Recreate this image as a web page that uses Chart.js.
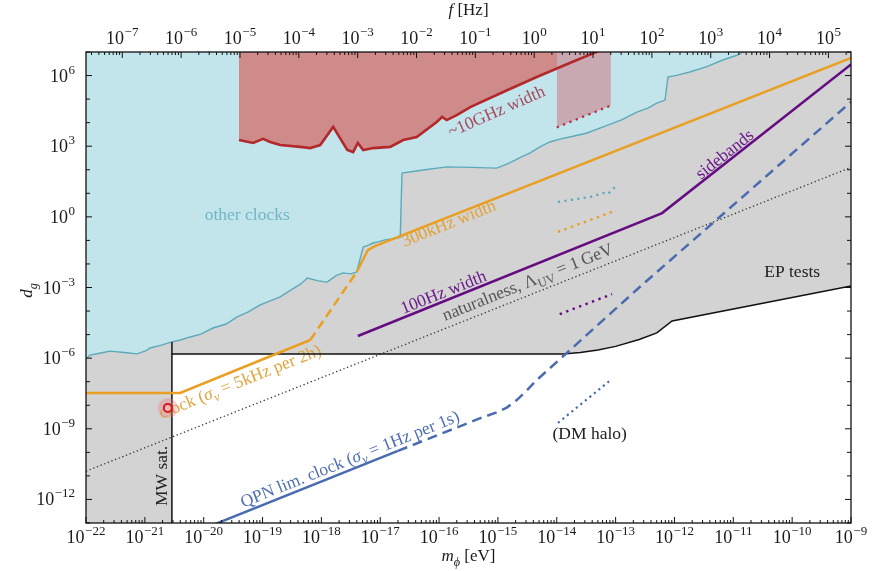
<!DOCTYPE html>
<html>
<head>
<meta charset="utf-8">
<title>d_g constraints</title>
<script src="https://cdn.jsdelivr.net/npm/chart.js@4.4.1/dist/chart.umd.min.js"></script>
<style>
  html, body { margin: 0; padding: 0; background: #ffffff; }
  canvas { display: block; }
</style>
</head>
<body>
<canvas id="c" width="877" height="571"></canvas>
<script>
// ---- axis ranges ----
const massRange = [1e-22, 1e-9];        // m_phi [eV]
const couplingRange = [1e-13, 1e7];     // d_g
const HZ_PER_EV = 2.418e14;             // f = m c^2 / h

// ---- tick labels (decade exponents) ----
const massTickExps = [-22, -21, -20, -19, -18, -17, -16, -15, -14, -13, -12, -11, -10, -9];
const freqTickExps = [-7, -6, -5, -4, -3, -2, -1, 0, 1, 2, 3, 4, 5];
const couplingTickExps = [6, 3, 0, -3, -6, -9, -12];

// ---- curves, as [log10 m_phi, log10 d_g] pairs ----
const otherClocks = [
  [-22.0,-6.04],[-21.93,-5.87],[-21.75,-5.78],[-21.59,-5.70],[-21.35,-5.76],[-21.13,-5.82],
  [-20.98,-5.68],[-20.91,-5.57],[-20.72,-5.45],[-20.54,-5.31],[-20.38,-5.22],[-20.23,-5.10],
  [-20.05,-4.98],[-19.84,-4.72],[-19.62,-4.55],[-19.43,-4.25],[-19.25,-4.05],[-19.04,-3.74],
  [-18.88,-3.58],[-18.70,-3.40],[-18.48,-3.05],[-18.35,-2.85],[-18.24,-2.60],[-18.05,-2.72],
  [-17.90,-2.77],[-17.75,-2.50],[-17.63,-2.38],[-17.50,-2.42],[-17.40,-2.34],[-17.29,-1.28],
  [-17.20,-1.20],[-17.12,-1.11],[-17.02,-1.05],[-16.92,-0.98],[-16.80,-0.94],[-16.66,-0.86],
  [-16.63,1.86],[-16.30,1.98],[-15.87,2.12],[-15.45,2.10],[-15.02,2.07],[-14.80,2.29],
  [-14.60,2.55],[-14.46,2.71],[-14.30,2.95],[-14.12,3.18],[-13.95,3.30],[-13.78,3.39],
  [-13.50,3.55],[-13.21,3.82],[-12.90,4.12],[-12.64,4.45],[-12.45,4.62],[-12.30,4.83],
  [-12.16,4.96],[-12.11,5.94],[-11.95,6.02],[-11.74,6.15],[-11.45,6.38],[-11.18,6.66],
  [-10.95,6.85],[-10.80,7.05]
];
const tenGHzWidth = [
  [-19.40,7.05],[-19.40,3.26],[-19.16,3.14],[-18.99,3.31],[-18.87,3.18],[-18.70,3.05],
  [-18.36,2.97],[-18.19,2.92],[-18.02,3.05],[-17.80,3.82],[-17.56,2.84],[-17.46,2.75],
  [-17.38,3.14],[-17.29,2.84],[-17.12,2.92],[-16.83,2.97],[-16.61,3.26],[-16.38,3.39],
  [-16.04,4.03],[-15.95,4.24],[-15.87,4.11],[-15.70,4.32],[-15.47,4.66],[-14.91,5.30],
  [-14.34,5.94],[-13.78,6.53],[-13.28,7.05]
];
const epTests = [
  [-20.54,-5.82],[-13.90,-5.82],[-13.60,-5.76],[-13.30,-5.65],[-13.00,-5.50],
  [-12.60,-5.21],[-12.30,-4.93],[-12.04,-4.42],[-9.00,-2.94]
];
const mwSat = [[-20.54,-13.2],[-20.54,-5.31]];
const naturalness = [[-22.0,-10.8],[-9.0,2.1]];

const clock5kHz = [[-22.0,-7.48],[-20.40,-7.48],[-18.19,-5.23]];
const clock5kHzDashed = [[-18.19,-5.23],[-17.40,-2.34]];
const width300kHz = [[-17.40,-2.34],[-17.21,-1.41],[-17.09,-1.24],[-9.0,6.75]];

const width100Hz = [[-17.38,-5.06],[-12.21,0.16],[-9.0,6.47]];

const qpnSolid = [[-20.0,-13.24],[-16.7,-9.94]];
const qpnDashed = [
  [-16.7,-9.94],[-15.30,-8.55],[-15.02,-8.30],[-14.85,-8.10],[-14.68,-7.78],
  [-14.50,-7.35],[-14.34,-6.93],[-12.59,-2.98],[-9.0,4.88]
];

const bandRedDotted = [[-14.0,3.80],[-13.08,4.73]];
const bandTealDotted = [[-13.98,0.63],[-13.66,0.76],[-13.44,0.84],[-13.21,1.01],[-13.13,0.97],[-13.01,1.27]];
const bandOrangeDotted = [[-13.98,-0.64],[-13.06,0.21]];
const bandPurpleDotted = [[-13.95,-4.13],[-13.06,-3.28]];
const dmHalo = [[-13.98,-8.75],[-13.08,-6.92]];

const clockPoint = [[-20.61,-8.12]];

// ---- colours ----
const C = {
  gray: '#d3d3d3', blue: '#c2e5ec', teal: '#5ca9ba', redFill: '#cf8a8a', redLine: '#b3292b',
  band: '#c9a9b1', orange: '#e89f22', purple: '#650c80', qpn: '#4a6bb0', black: '#111111'
};
const SERIF = '"Liberation Serif", "DejaVu Serif", serif';

const P = arr => arr.map(([a, b]) => ({ x: Math.pow(10, a), y: Math.pow(10, b) }));
const line = (label, pts, style) => Object.assign(
  { label, data: P(pts), pointRadius: 0, borderWidth: 2.5, fill: false, clip: 0, tension: 0 }, style);

const datasets = [
  line('EP tests', epTests, { borderColor: C.black, borderWidth: 1.5, fill: 'start', backgroundColor: '#ffffff', order: 20 }),
  line('other clocks', otherClocks, { borderColor: C.teal, borderWidth: 1.4, fill: 'end', backgroundColor: C.blue, order: 19 }),
  line('~10GHz width', tenGHzWidth, { borderColor: C.redLine, borderWidth: 2.6, fill: 'end', backgroundColor: C.redFill, order: 18,
    segment: { borderColor: ctx => ctx.p0DataIndex === 0 ? 'rgba(0,0,0,0)' : undefined } }),
  line('band', bandRedDotted, { borderColor: '#b2304c', borderWidth: 2.3, borderDash: [2.3, 4.5], fill: 'end', backgroundColor: C.band, order: 17 }),
  line('MW sat.', mwSat, { borderColor: C.black, borderWidth: 1.5, order: 6 }),
  line('naturalness', naturalness, { borderColor: '#333333', borderWidth: 1.3, borderDash: [1.3, 2.6], order: 6 }),
  line('clock 5kHz', clock5kHz, { borderColor: C.orange, order: 5 }),
  line('clock 5kHz dashed', clock5kHzDashed, { borderColor: C.orange, borderDash: [9, 5], order: 5 }),
  line('300kHz width', width300kHz, { borderColor: C.orange, order: 5 }),
  line('100Hz width', width100Hz, { borderColor: C.purple, order: 5 }),
  line('QPN', qpnSolid, { borderColor: C.qpn, order: 5 }),
  line('QPN dashed', qpnDashed, { borderColor: C.qpn, borderDash: [10, 6], order: 5 }),
  line('teal dotted', bandTealDotted, { borderColor: C.teal, borderWidth: 2.2, borderDash: [2.2, 4.3], order: 4 }),
  line('orange dotted', bandOrangeDotted, { borderColor: C.orange, borderWidth: 2.4, borderDash: [2.4, 4.5], order: 4 }),
  line('purple dotted', bandPurpleDotted, { borderColor: C.purple, borderWidth: 2.4, borderDash: [2.4, 4.5], order: 4 }),
  line('DM halo', dmHalo, { borderColor: C.qpn, borderWidth: 2.2, borderDash: [2.2, 3.6], order: 4 }),
  line('clock glow', clockPoint, { showLine: false, pointRadius: 10, pointBorderWidth: 0, pointBackgroundColor: 'rgba(236,120,120,0.35)', order: 2 }),
  line('clock point', clockPoint, { showLine: false, pointRadius: 4, pointBorderWidth: 2, pointBorderColor: '#d21a1a', pointBackgroundColor: '#f2b8b8', order: 1 })
];

// ---- annotations along the curves ----
const notes = [
  { segs: [{ t: 'other clocks' }], at: [-19.26, 0.08], slope: 0, color: '#72b5c5' },
  { segs: [{ t: '~10GHz width' }], at: [-15.02, 4.45], slope: 1.1, color: '#a8485c' },
  { segs: [{ t: '300kHz width' }], at: [-15.83, -0.30], slope: 1, color: '#e2a235' },
  { segs: [{ t: '100Hz width' }], at: [-15.92, -3.23], slope: 1, color: '#6c1a8c' },
  { segs: [{ t: 'naturalness, \u039B' }, { t: 'UV', sub: true }, { t: ' = 1\u2009GeV' }], at: [-14.49, -2.80], slope: 1, color: '#555555' },
  { segs: [{ t: 'sidebands' }], at: [-11.14, 2.63], slope: 2, color: '#6c1a8c' },
  { segs: [{ t: 'EP tests' }], at: [-10.0, -2.38], slope: 0, color: '#222222' },
  { segs: [{ t: 'clock (' }, { t: '\u03C3', it: true }, { t: '\u03BD', it: true, sub: true }, { t: ' = 5kHz per 2h)' }], at: [-19.38, -7.03], slope: 1, color: '#dfa43e' },
  { segs: [{ t: 'QPN lim. clock (' }, { t: '\u03C3', it: true }, { t: '\u03BD', it: true, sub: true }, { t: ' = 1Hz per 1s)' }], at: [-17.51, -10.32], slope: 1, color: '#4f6fb2' },
  { segs: [{ t: '(DM halo)' }], at: [-13.44, -9.22], slope: 0, color: '#222222' },
  { segs: [{ t: 'MW sat.' }], at: [-20.71, -11.0], angle: -Math.PI / 2, color: '#222222' }
];

function segFont(seg, size) {
  const s = (seg.sub || seg.sup) ? size * 0.72 : size;
  return (seg.it ? 'italic ' : '') + s.toFixed(1) + 'px ' + SERIF;
}
function drawRich(ctx, segs, x, y, angle, color, size) {
  ctx.save();
  ctx.translate(x, y);
  ctx.rotate(angle);
  let w = 0;
  for (const s of segs) { ctx.font = segFont(s, size); w += ctx.measureText(s.t).width; }
  let cx = -w / 2;
  ctx.fillStyle = color;
  ctx.textBaseline = 'middle';
  ctx.textAlign = 'left';
  for (const s of segs) {
    ctx.font = segFont(s, size);
    const dy = s.sub ? size * 0.32 : (s.sup ? -size * 0.4 : 0);
    ctx.fillText(s.t, cx, dy);
    cx += ctx.measureText(s.t).width;
  }
  ctx.restore();
}
function drawPow(ctx, exp, x, y, align) {
  const base = '10';
  const e = (exp < 0 ? '\u2212' : '') + Math.abs(exp);
  ctx.font = '18px ' + SERIF;
  const wb = ctx.measureText(base).width;
  ctx.font = '13px ' + SERIF;
  const we = ctx.measureText(e).width;
  const total = wb + we + 0.5;
  const x0 = align === 'center' ? x - total / 2 : (align === 'right' ? x - total : x);
  ctx.textBaseline = 'alphabetic';
  ctx.textAlign = 'left';
  ctx.font = '18px ' + SERIF;
  ctx.fillText(base, x0, y);
  ctx.font = '13px ' + SERIF;
  ctx.fillText(e, x0 + wb + 0.5, y - 8);
}

const framePlugin = {
  id: 'frame',
  beforeDraw(chart) {
    const { ctx, chartArea: a } = chart;
    ctx.save();
    ctx.fillStyle = C.gray;
    ctx.fillRect(a.left, a.top, a.right - a.left, a.bottom - a.top);
    ctx.restore();
  },
  beforeDatasetsDraw(chart) {
    const { ctx, chartArea: a } = chart;
    const sx = chart.scales.x, sy = chart.scales.y;
    ctx.save();
    ctx.beginPath();
    ctx.rect(a.left, a.top, a.right - a.left, a.bottom - a.top);
    ctx.clip();
    for (const n of notes) {
      const px = sx.getPixelForValue(Math.pow(10, n.at[0]));
      const py = sy.getPixelForValue(Math.pow(10, n.at[1]));
      let ang = n.angle || 0;
      if (n.slope !== undefined && n.angle === undefined) {
        const px2 = sx.getPixelForValue(Math.pow(10, n.at[0] + 1));
        const py2 = sy.getPixelForValue(Math.pow(10, n.at[1] + n.slope));
        ang = Math.atan2(py2 - py, px2 - px);
      }
      drawRich(ctx, n.segs, px, py, ang, n.color, 17.5);
    }
    ctx.restore();
  },
  afterDraw(chart) {
    const { ctx, chartArea: a } = chart;
    const sx = chart.scales.x, sf = chart.scales.xTop, sy = chart.scales.y;
    ctx.save();
    ctx.strokeStyle = '#111';
    ctx.fillStyle = '#111';
    ctx.lineWidth = 1;
    // inward ticks, bottom (mass) and top (frequency)
    const hTicks = (scale, lo, hi, yEdge, dir) => {
      ctx.beginPath();
      for (let n = Math.floor(Math.log10(lo)); n <= Math.ceil(Math.log10(hi)); n++) {
        for (let k = 1; k <= 9; k++) {
          const v = k * Math.pow(10, n);
          if (v < lo * 0.999 || v > hi * 1.001) continue;
          const p = scale.getPixelForValue(v);
          const len = k === 1 ? 6 : 3;
          ctx.moveTo(p, yEdge);
          ctx.lineTo(p, yEdge + dir * len);
        }
      }
      ctx.stroke();
    };
    hTicks(sx, massRange[0], massRange[1], a.bottom, -1);
    hTicks(sf, massRange[0] * HZ_PER_EV, massRange[1] * HZ_PER_EV, a.top, 1);
    // inward ticks, left and right (coupling)
    ctx.beginPath();
    for (let n = -13; n <= 7; n++) {
      const p = sy.getPixelForValue(Math.pow(10, n));
      const len = (n % 3 === 0) ? 6 : 4;
      ctx.moveTo(a.left, p); ctx.lineTo(a.left + len, p);
      ctx.moveTo(a.right, p); ctx.lineTo(a.right - len, p);
    }
    ctx.stroke();
    // frame
    ctx.lineWidth = 1.3;
    ctx.strokeRect(a.left, a.top, a.right - a.left, a.bottom - a.top);
    // tick labels
    ctx.fillStyle = '#1a1a1a';
    for (const e of massTickExps) drawPow(ctx, e, sx.getPixelForValue(Math.pow(10, e)), a.bottom + 20, 'center');
    for (const e of freqTickExps) drawPow(ctx, e, sf.getPixelForValue(Math.pow(10, e)), a.top - 8, 'center');
    for (const e of couplingTickExps) drawPow(ctx, e, a.left - 11, sy.getPixelForValue(Math.pow(10, e)) + 6, 'right');
    // axis titles
    const cx = (a.left + a.right) / 2;
    drawRich(ctx, [{ t: 'f', it: true }, { t: ' [Hz]' }], cx, 11, 0, '#1a1a1a', 17);
    drawRich(ctx, [{ t: 'm', it: true }, { t: '\u03D5', it: true, sub: true }, { t: ' [eV]' }], cx, 557, 0, '#1a1a1a', 17);
    drawRich(ctx, [{ t: 'd', it: true }, { t: 'g', it: true, sub: true }], 28, (a.top + a.bottom) / 2 + 3, -Math.PI / 2, '#1a1a1a', 17);
    ctx.restore();
  }
};

new Chart(document.getElementById('c').getContext('2d'), {
  type: 'line',
  data: { datasets },
  options: {
    responsive: false,
    animation: false,
    events: [],
    layout: { padding: { left: 0, right: 26, top: 0, bottom: 0 } },
    elements: { point: { radius: 0 }, line: { tension: 0 } },
    plugins: {
      legend: { display: false },
      tooltip: { enabled: false },
      filler: { drawTime: 'beforeDatasetsDraw' }
    },
    scales: {
      x: {
        type: 'logarithmic', position: 'bottom', min: massRange[0], max: massRange[1],
        grid: { display: false }, border: { display: false }, ticks: { display: false },
        afterFit: s => { s.height = 48; }
      },
      xTop: {
        type: 'logarithmic', position: 'top',
        min: massRange[0] * HZ_PER_EV, max: massRange[1] * HZ_PER_EV,
        grid: { display: false }, border: { display: false }, ticks: { display: false },
        afterFit: s => { s.height = 52; }
      },
      y: {
        type: 'logarithmic', position: 'left', min: couplingRange[0], max: couplingRange[1],
        grid: { display: false }, border: { display: false }, ticks: { display: false },
        afterFit: s => { s.width = 86; }
      }
    }
  },
  plugins: [framePlugin]
});
</script>
</body>
</html>
